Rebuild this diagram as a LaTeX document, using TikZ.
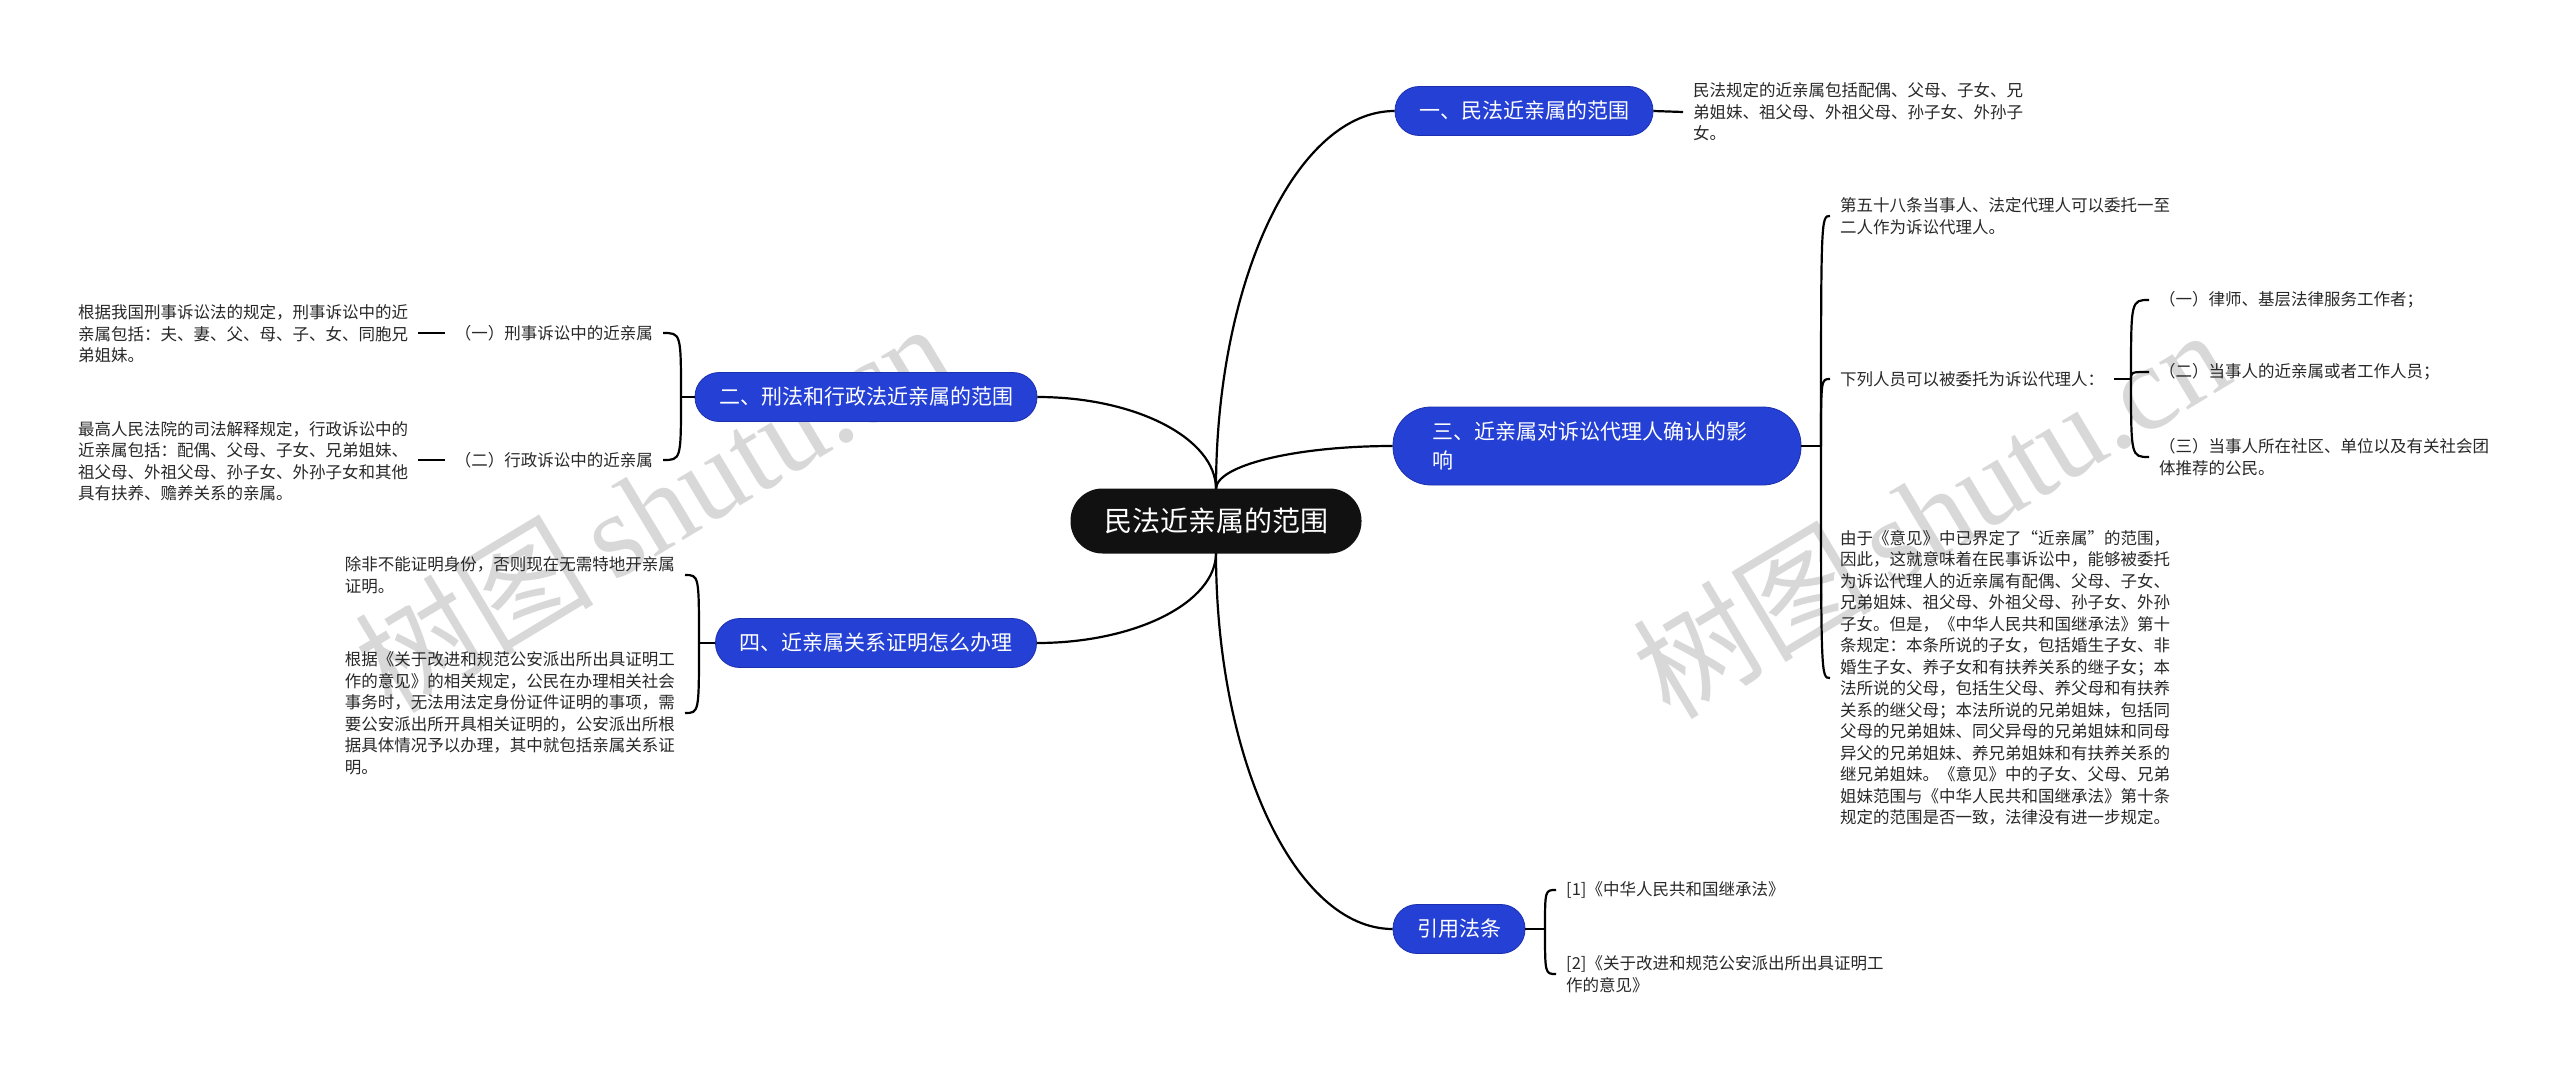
\documentclass[tikz,border=0pt]{standalone}
\usepackage{fontspec}
\setmainfont{Noto Sans CJK SC}
\newfontfamily\wmlatin{Liberation Serif}
\newfontfamily\wmcjk{Noto Sans CJK SC Light}
\usetikzlibrary{calc}
\definecolor{bblue}{RGB}{37,64,212}
\definecolor{bbord}{RGB}{28,48,175}
\definecolor{rootblack}{RGB}{17,17,17}
\definecolor{wmgray}{RGB}{216,216,216}
\definecolor{leaftext}{RGB}{40,40,40}
\begin{document}
\begin{tikzpicture}[x=1pt,y=-1pt,
  conn/.style={line width=2.2pt, black},
  rootbox/.style={fill=rootblack, text=white, rounded corners=32pt, minimum width=291pt, minimum height=65pt, inner sep=0pt, font=\fontsize{28}{34}\selectfont},
  topic/.style={fill=bblue, draw=bbord, line width=0.8pt, text=white, rounded corners=24pt, minimum height=49pt, inner xsep=24pt, inner ysep=0pt, font=\fontsize{21}{27}\selectfont},
  leaf/.style={align=left, inner xsep=10pt, inner ysep=3pt, text=leaftext, font=\fontsize{16.5}{21.5}\selectfont},
  wmark/.style={text=wmgray, rotate=31, inner sep=0pt, font=\fontsize{120}{120}\selectfont}
]
\useasboundingbox (0,0) rectangle (2560,1073);
\fill[white] (0,0) rectangle (2560,1073);

% watermarks
\node[wmark] (wm1) at (652,506) {树图\hspace{18pt}{\wmlatin shutu.cn}};
\node[wmark] (wm2) at (1930,512) {树图\hspace{18pt}{\wmlatin shutu.cn}};

% topics
\node[topic] (b1) at (1524,111) {一、民法近亲属的范围};
\node[topic] (b2) at (866,397) {二、刑法和行政法近亲属的范围};
\node[topic, rounded corners=38pt, minimum height=78pt, text width=330pt, inner xsep=39pt, align=left, font=\fontsize{21}{29}\selectfont] (b3) at (1597,446) {三、近亲属对诉讼代理人确认的影\\响};
\node[topic] (b4) at (876,643) {四、近亲属关系证明怎么办理};
\node[topic] (b5) at (1459,929) {引用法条};

% root anchor points
\coordinate (rc) at (1216,521);
\coordinate (rn) at (1216,489);
\coordinate (rs) at (1216,553);

% root connectors
\draw[conn] (rn) .. controls ($(rn)!0.55!(rn |- b1.west)$) and ($(rn |- b1.west)!0.45!(b1.west)$) .. (b1.west);
\draw[conn] (rn) .. controls ($(rn)!0.55!(rn |- b3.west)$) and ($(rn |- b3.west)!0.45!(b3.west)$) .. (b3.west);
\draw[conn] (rs) .. controls ($(rs)!0.55!(rs |- b5.west)$) and ($(rs |- b5.west)!0.45!(b5.west)$) .. (b5.west);
\draw[conn] (rn) .. controls ($(rn)!0.55!(rn |- b2.east)$) and ($(rn |- b2.east)!0.45!(b2.east)$) .. (b2.east);
\draw[conn] (rs) .. controls ($(rs)!0.55!(rs |- b4.east)$) and ($(rs |- b4.east)!0.45!(b4.east)$) .. (b4.east);

\node[rootbox] (root) at (rc) {民法近亲属的范围};

% branch 1 leaf
\node[leaf, anchor=west] (l1) at (1683,112) {民法规定的近亲属包括配偶、父母、子女、兄\\弟姐妹、祖父母、外祖父母、孙子女、外孙子\\女。};
\draw[conn] (b1.east) -- (l1.west);

% branch 3
\coordinate (j3) at (1821,446);
\node[leaf, anchor=west] (c31) at (1830,216) {第五十八条当事人、法定代理人可以委托一至\\二人作为诉讼代理人。};
\node[leaf, anchor=west] (c32) at (1830,379) {下列人员可以被委托为诉讼代理人：};
\node[leaf, anchor=west] (c33) at (1830,678) {由于《意见》中已界定了“近亲属”的范围，\\因此，这就意味着在民事诉讼中，能够被委托\\为诉讼代理人的近亲属有配偶、父母、子女、\\兄弟姐妹、祖父母、外祖父母、孙子女、外孙\\子女。但是，《中华人民共和国继承法》第十\\条规定：本条所说的子女，包括婚生子女、非\\婚生子女、养子女和有扶养关系的继子女；本\\法所说的父母，包括生父母、养父母和有扶养\\关系的继父母；本法所说的兄弟姐妹，包括同\\父母的兄弟姐妹、同父异母的兄弟姐妹和同母\\异父的兄弟姐妹、养兄弟姐妹和有扶养关系的\\继兄弟姐妹。《意见》中的子女、父母、兄弟\\姐妹范围与《中华人民共和国继承法》第十条\\规定的范围是否一致，法律没有进一步规定。};
\draw[conn] (b3.east) -- (j3);
\draw[conn] (j3) .. controls (j3 |- c31.west) .. (c31.west);
\draw[conn] (j3) .. controls (j3 |- c32.west) .. (c32.west);
\draw[conn] (j3) .. controls (j3 |- c33.west) .. (c33.west);

\coordinate (j32) at (2131,379);
\node[leaf, anchor=west] (c321) at (2149,300) {（一）律师、基层法律服务工作者；};
\node[leaf, anchor=west] (c322) at (2149,372) {（二）当事人的近亲属或者工作人员；};
\node[leaf, anchor=west] (c323) at (2149,457) {（三）当事人所在社区、单位以及有关社会团\\体推荐的公民。};
\draw[conn] (c32.east) -- (j32);
\draw[conn] (j32) .. controls (j32 |- c321.west) .. (c321.west);
\draw[conn] (j32) .. controls (j32 |- c322.west) .. (c322.west);
\draw[conn] (j32) .. controls (j32 |- c323.west) .. (c323.west);

% branch 2
\coordinate (j2) at (681,397);
\node[leaf, anchor=east] (c21) at (663,333) {（一）刑事诉讼中的近亲属};
\node[leaf, anchor=east] (c22) at (663,460) {（二）行政诉讼中的近亲属};
\draw[conn] (b2.west) -- (j2);
\draw[conn] (j2) .. controls (j2 |- c21.east) .. (c21.east);
\draw[conn] (j2) .. controls (j2 |- c22.east) .. (c22.east);
\node[leaf, anchor=west] (l21) at (68,334) {根据我国刑事诉讼法的规定，刑事诉讼中的近\\亲属包括：夫、妻、父、母、子、女、同胞兄\\弟姐妹。};
\node[leaf, anchor=west] (l22) at (68,461) {最高人民法院的司法解释规定，行政诉讼中的\\近亲属包括：配偶、父母、子女、兄弟姐妹、\\祖父母、外祖父母、孙子女、外孙子女和其他\\具有扶养、赡养关系的亲属。};
\draw[conn] (l21.east |- c21.west) -- (c21.west);
\draw[conn] (l22.east |- c22.west) -- (c22.west);

% branch 4
\coordinate (j4) at (699,643);
\node[leaf, anchor=east] (c41) at (685,575) {除非不能证明身份，否则现在无需特地开亲属\\证明。};
\node[leaf, anchor=east] (c42) at (685,713) {根据《关于改进和规范公安派出所出具证明工\\作的意见》的相关规定，公民在办理相关社会\\事务时，无法用法定身份证件证明的事项，需\\要公安派出所开具相关证明的，公安派出所根\\据具体情况予以办理，其中就包括亲属关系证\\明。};
\draw[conn] (b4.west) -- (j4);
\draw[conn] (j4) .. controls (j4 |- c41.east) .. (c41.east);
\draw[conn] (j4) .. controls (j4 |- c42.east) .. (c42.east);

% branch 5
\coordinate (j5) at (1545,929);
\node[leaf, anchor=west] (c51) at (1556,890) {[1]《中华人民共和国继承法》};
\node[leaf, anchor=west] (c52) at (1556,974) {[2]《关于改进和规范公安派出所出具证明工\\作的意见》};
\draw[conn] (b5.east) -- (j5);
\draw[conn] (j5) .. controls (j5 |- c51.west) .. (c51.west);
\draw[conn] (j5) .. controls (j5 |- c52.west) .. (c52.west);
\end{tikzpicture}
\end{document}
